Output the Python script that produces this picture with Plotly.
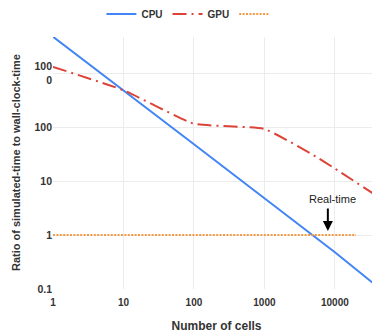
import plotly.graph_objects as go

cells = [1, 10, 100, 1000, 10000, 44000]
cpu = [4700, 480, 48, 4.8, 0.48, 0.1]
gpu_x = [1, 10, 100, 1000, 5000, 10000, 44000]
gpu = [1300, 480, 115, 92, 30, 17, 4.8]
rt_x = [1, 20000]
rt_y = [1, 1]

ytick_vals = [0.1, 1, 10, 100, 1000]
ytick_text = ["0.1", "1", "10", "100", "100<br>0"]
xtick_vals = [1, 10, 100, 1000, 10000]
xtick_text = ["1", "10", "100", "1000", "10000"]

font = "Liberation Sans, Arial, sans-serif"
fig = go.Figure()
fig.add_trace(go.Scatter(x=cells, y=cpu, name="CPU", mode="lines",
                         line=dict(color="#4285F4", width=2)))
fig.add_trace(go.Scatter(x=gpu_x, y=gpu, name="GPU", mode="lines",
                         line=dict(color="#DB4437", width=2, dash="14px,5px,2px,5px",
                                   shape="spline", smoothing=0.4)))
fig.add_trace(go.Scatter(x=rt_x, y=rt_y, name=" ", mode="lines",
                         line=dict(color="#F49A45", width=2, dash="2px,1.4px")))

fig.add_annotation(x=3.9, y=0.074, xref="x", yref="y", text="", showarrow=True,
                   axref="pixel", ayref="pixel", ax=0, ay=-24,
                   arrowhead=2, arrowsize=1, arrowwidth=2, arrowcolor="black")
fig.add_annotation(x=3.97, y=0.67, xref="x", yref="y", text="Real-time", showarrow=False,
                   font=dict(family=font, size=11, color="#222"))
fig.add_annotation(x=-0.113, y=0.5, xref="paper", yref="paper", xanchor="center", yanchor="middle",
                   text="<b>Ratio of simulated-time to wall-clock-time</b>", textangle=-90,
                   showarrow=False, font=dict(family=font, size=11, color="#333"))

fig.update_layout(
    width=380, height=336,
    margin=dict(l=45, r=8, t=29, b=55, autoexpand=False),
    plot_bgcolor="white", paper_bgcolor="white",
    font=dict(family=font, size=10, color="#333"),
    showlegend=True,
    legend=dict(orientation="h", xref="container", x=0.484, xanchor="center",
                yref="container", y=0.982, yanchor="middle",
                font=dict(family=font, size=10, color="#333", weight="bold"),
                itemwidth=30),
    xaxis=dict(type="log", range=[0, 4.64], tickvals=xtick_vals, ticktext=xtick_text,
               automargin=False, ticklabelstandoff=6,
               showgrid=True, gridcolor="#ececec", zeroline=False, showline=False,
               tickfont=dict(family=font, size=10, color="#333", weight="bold"),
               title=dict(text="<b>Number of cells</b>", font=dict(family=font, size=12, color="#333"),
                          standoff=14)),
    yaxis=dict(type="log", range=[-1, 3.667], tickvals=ytick_vals, ticktext=ytick_text,
               automargin=False,
               showgrid=True, gridcolor="#ececec", zeroline=False, showline=False,
               tickfont=dict(family=font, size=10.5, color="#333", weight="bold")),
)
fig.write_html("out.html")
